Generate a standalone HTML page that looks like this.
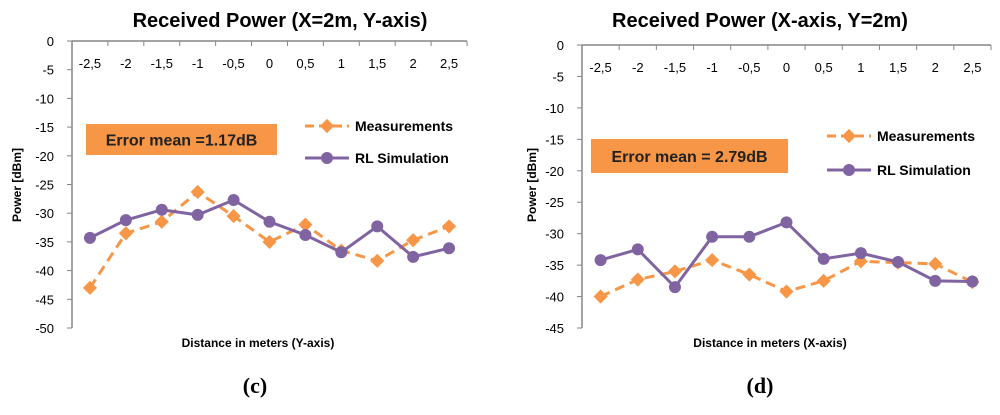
<!DOCTYPE html>
<html><head><meta charset="utf-8"><style>
body{margin:0;background:#fff}
svg text{font-family:"Liberation Sans",sans-serif}
</style></head><body>
<svg id="s" width="1000" height="410" xmlns="http://www.w3.org/2000/svg"></svg>
<script>
const categories=["-2,5","-2","-1,5","-1","-0,5","0","0,5","1","1,5","2","2,5"];
const measC=[-43,-33.5,-31.5,-26.3,-30.5,-35,-32,-36.5,-38.3,-34.7,-32.3];
const simC=[-34.3,-31.2,-29.4,-30.3,-27.7,-31.5,-33.8,-36.8,-32.3,-37.6,-36.1];
const measD=[-40,-37.3,-36,-34.2,-36.5,-39.2,-37.5,-34.4,-34.6,-34.8,-37.7];
const simD=[-34.2,-32.5,-38.5,-30.5,-30.5,-28.2,-34,-33.1,-34.5,-37.5,-37.6];
const yTicksC=[0,-5,-10,-15,-20,-25,-30,-35,-40,-45,-50];
const yTicksD=[0,-5,-10,-15,-20,-25,-30,-35,-40,-45];
const NS="http://www.w3.org/2000/svg";
const svg=document.getElementById('s');
const OR="#F79646",PU="#8064A2",AX="#868686";
function mk(tag,at,parent,txt){const e=document.createElementNS(NS,tag);for(const k in at)e.setAttribute(k,at[k]);if(txt!==undefined)e.textContent=txt;(parent||svg).appendChild(e);return e;}
function chart(c){
  const g=mk('g',{});
  
  
  const n=categories.length, w=(c.x1-c.x0)/n;
  const xs=i=>c.x0+w*(i+0.5);
  const ys=v=>c.yTop+(0-v)/(0-c.ymin)*(c.yBot-c.yTop);
  let t=mk('text',{x:c.tx,y:27,'text-anchor':'middle','font-size':20,'font-weight':'bold'},g,c.title);
  
  
  mk('line',{x1:c.x0,y1:c.yTop,x2:c.x0,y2:c.yBot,stroke:AX,'stroke-width':1.5},g);
  mk('line',{x1:c.x0,y1:c.yTop,x2:c.x1,y2:c.yTop,stroke:AX,'stroke-width':1.5},g);
  c.yt.forEach(v=>{mk('line',{x1:c.x0-5,y1:ys(v),x2:c.x0,y2:ys(v),stroke:AX},g);
    const l=mk('text',{x:c.x0-18,y:ys(v)+5,'text-anchor':'end','font-size':13},g,String(v));
    
    });
  for(let i=0;i<=n;i++)mk('line',{x1:c.x0+w*i,y1:c.yTop,x2:c.x0+w*i,y2:c.yTop+5,stroke:AX},g);
  categories.forEach((s,i)=>{const l=mk('text',{x:xs(i),y:c.yTop+27,'text-anchor':'middle','font-size':13},g,s);
    
    });
  const yl=mk('text',{x:0,y:0,transform:`translate(${c.ylx},185) rotate(-90)`,'text-anchor':'middle','font-size':12,'font-weight':'bold'},g,'Power [dBm]');
  
  
  const xl=mk('text',{x:c.xtx,y:347,'text-anchor':'middle','font-size':12,'font-weight':'bold'},g,c.xtitle);
  
  
  const b=mk('rect',{x:c.box[0],y:c.box[1],width:c.box[2],height:c.box[3],fill:OR},g);
  
  
  mk('text',{x:c.box[0]+c.box[2]/2,y:c.box[1]+c.box[3]/2+6,'text-anchor':'middle','font-size':16,'font-weight':'bold',fill:'#222'},g,c.err);
  const pm=c.meas.map((v,i)=>xs(i)+','+ys(v)).join(' ');
  const l1=mk('polyline',{points:pm,fill:'none',stroke:OR,'stroke-width':3,'stroke-dasharray':'10,6'},g);
  
  
  c.meas.forEach((v,i)=>{const d=mk('rect',{x:xs(i)-5,y:ys(v)-5,width:10,height:10,fill:OR,transform:`rotate(45 ${xs(i)} ${ys(v)})`},g);
    
    });
  const ps=c.sim.map((v,i)=>xs(i)+','+ys(v)).join(' ');
  const l2=mk('polyline',{points:ps,fill:'none',stroke:PU,'stroke-width':3},g);
  
  
  c.sim.forEach((v,i)=>{const d=mk('circle',{cx:xs(i),cy:ys(v),r:6,fill:PU},g);
    
    });
  const L=c.leg;
  const le1=mk('g',{},g);
  
  
  mk('line',{x1:L[0],y1:L[1],x2:L[0]+44,y2:L[1],stroke:OR,'stroke-width':3,'stroke-dasharray':'9,5'},le1);
  mk('rect',{x:L[0]+17,y:L[1]-5,width:10,height:10,fill:OR,transform:`rotate(45 ${L[0]+22} ${L[1]})`},le1);
  mk('text',{x:L[0]+50,y:L[1]+5,'font-size':14,'font-weight':'bold'},le1,'Measurements');
  const le2=mk('g',{},g);
  
  
  mk('line',{x1:L[0],y1:L[2],x2:L[0]+44,y2:L[2],stroke:PU,'stroke-width':3},le2);
  mk('circle',{cx:L[0]+22,cy:L[2],r:6,fill:PU},le2);
  mk('text',{x:L[0]+50,y:L[2]+5,'font-size':14,'font-weight':'bold'},le2,'RL Simulation');
  const cap=mk('text',{x:c.cx,y:393,'text-anchor':'middle','font-size':22,'font-weight':'bold','font-family':'Liberation Serif, serif',style:'font-family:"Liberation Serif",serif'},g,c.cap);
  
  
}
chart({id:'chart-c',title:'Received Power (X=2m, Y-axis)',tx:280,x0:72,x1:467,yTop:41,yBot:328,ymin:-50,yt:yTicksC,meas:measC,sim:simC,
 ylx:21,xtx:258,xtitle:'Distance in meters (Y-axis)',box:[86,124,191,31],err:'Error mean =1.17dB',leg:[305,126,158],cx:255,cap:'(c)'});
chart({id:'chart-d',title:'Received Power (X-axis, Y=2m)',tx:760,x0:582,x1:991,yTop:45,yBot:328,ymin:-45,yt:yTicksD,meas:measD,sim:simD,
 ylx:536,xtx:770,xtitle:'Distance in meters (X-axis)',box:[591,139,197,34],err:'Error mean = 2.79dB',leg:[827,136,170],cx:760,cap:'(d)'});
</script>
</body></html>
